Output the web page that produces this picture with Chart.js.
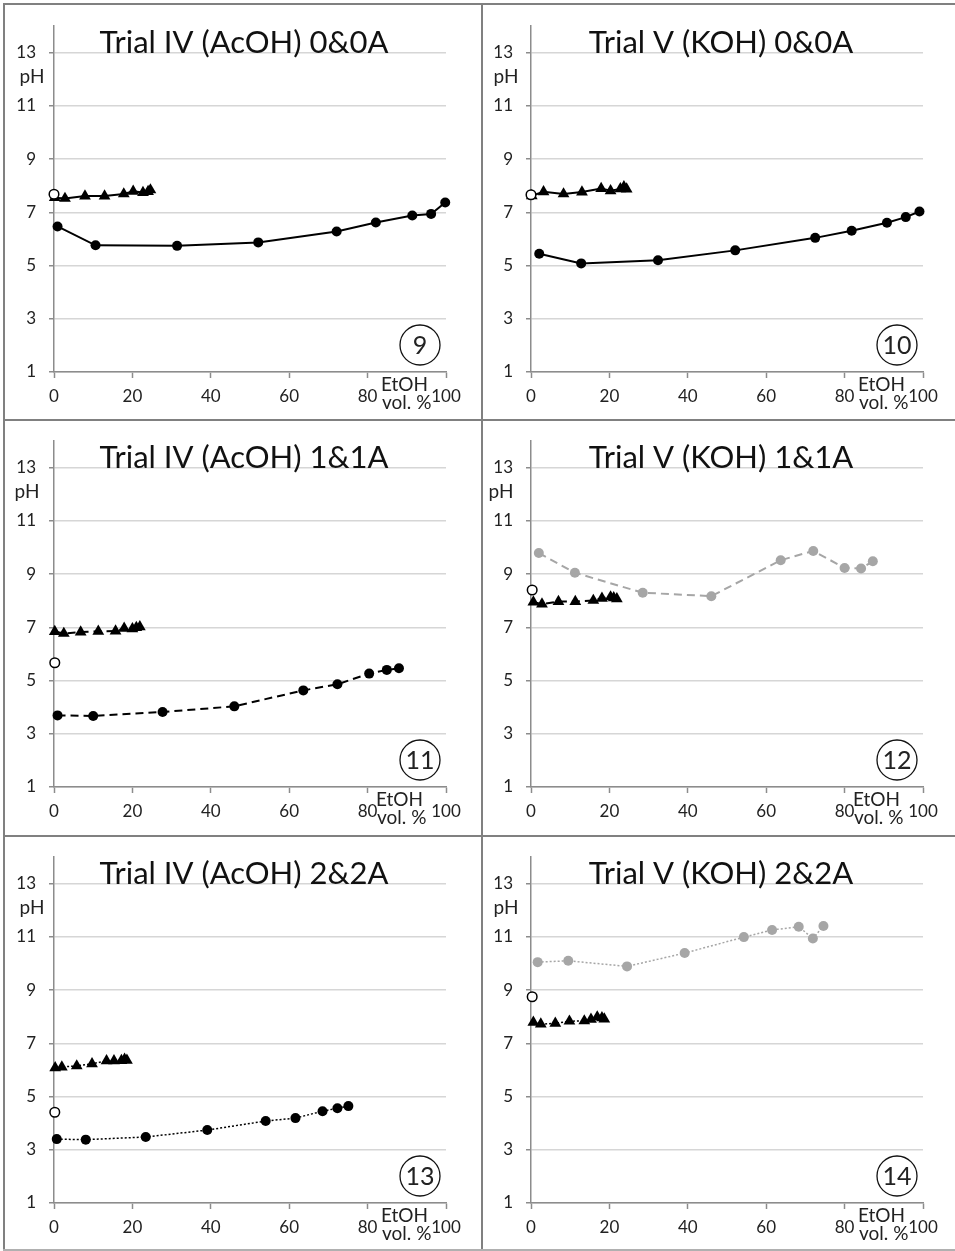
<!DOCTYPE html>
<html>
<head>
<meta charset="utf-8">
<script src="https://cdn.jsdelivr.net/npm/chart.js@4.4.0/dist/chart.umd.min.js"></script>
<style>
  body { margin: 0; background: #fff; }
  #page { position: relative; width: 955px; height: 1251px; overflow: hidden; background: #fff; }
  .panel { position: absolute; width: 478px; height: 416px; }
  .rule { position: absolute; background: #808080; }
</style>
</head>
<body>
<div id="page">
  <div class="panel" style="left:0;top:0"><canvas id="c0" width="478" height="416"></canvas></div>
  <div class="panel" style="left:477px;top:0"><canvas id="c1" width="478" height="416"></canvas></div>
  <div class="panel" style="left:0;top:415px"><canvas id="c2" width="478" height="416"></canvas></div>
  <div class="panel" style="left:477px;top:415px"><canvas id="c3" width="478" height="416"></canvas></div>
  <div class="panel" style="left:0;top:831px"><canvas id="c4" width="478" height="416"></canvas></div>
  <div class="panel" style="left:477px;top:831px"><canvas id="c5" width="478" height="416"></canvas></div>

  <!-- frame lines between panels -->
  <div class="rule" style="left:3px;top:3px;width:2px;height:1248px"></div>
  <div class="rule" style="left:481px;top:3px;width:2px;height:1248px"></div>
  <div class="rule" style="left:3px;top:3px;width:952px;height:2px"></div>
  <div class="rule" style="left:3px;top:419px;width:952px;height:2px"></div>
  <div class="rule" style="left:3px;top:835px;width:952px;height:2px"></div>
  <div class="rule" style="left:3px;top:1249px;width:952px;height:2px;background:#b0b0b0"></div>
</div>

<script>
// axes
const xTicks = [0, 20, 40, 60, 80, 100];
const yTicks = [1, 3, 5, 7, 9, 11, 13];

const titles = [
  "Trial IV (AcOH) 0&0A", "Trial V (KOH) 0&0A",
  "Trial IV (AcOH) 1&1A", "Trial V (KOH) 1&1A",
  "Trial IV (AcOH) 2&2A", "Trial V (KOH) 2&2A"
];
const panelNumbers = ["9", "10", "11", "12", "13", "14"];

// panel 9
const etohCirc9 = [0.9, 10.6, 31.4, 52.1, 72.1, 82.1, 91.4, 96.2, 99.8];
const phCirc9   = [6.47, 5.76, 5.74, 5.87, 6.28, 6.62, 6.88, 6.94, 7.37];
const etohTri9  = [0.2, 2.8, 7.9, 12.9, 17.8, 20.2, 22.7, 24.0, 24.6];
const phTri9    = [7.55, 7.52, 7.61, 7.61, 7.69, 7.79, 7.74, 7.78, 7.84];

// panel 10
const etohCirc10 = [2.1, 12.8, 32.4, 52.1, 72.5, 81.8, 90.8, 95.6, 99.1];
const phCirc10   = [5.44, 5.08, 5.20, 5.57, 6.04, 6.31, 6.61, 6.82, 7.03];
const etohTri10  = [0.2, 3.2, 8.3, 13.0, 17.9, 20.3, 22.8, 23.7, 24.4];
const phTri10    = [7.62, 7.77, 7.69, 7.76, 7.89, 7.81, 7.88, 7.96, 7.87];

// panel 11
const etohCirc11 = [0.9, 10.0, 27.7, 46.0, 63.6, 72.3, 80.4, 84.9, 88.0];
const phCirc11   = [3.69, 3.67, 3.82, 4.03, 4.63, 4.86, 5.26, 5.40, 5.46];
const etohTri11  = [0.2, 2.5, 6.8, 11.3, 15.7, 17.9, 20.0, 21.0, 21.9];
const phTri11    = [6.84, 6.77, 6.82, 6.85, 6.86, 6.96, 6.94, 6.99, 7.02];

// panel 12
const etohCirc12 = [2.0, 11.2, 28.5, 46.0, 63.7, 72.0, 80.0, 84.2, 87.2];
const phCirc12   = [9.79, 9.05, 8.30, 8.17, 9.52, 9.87, 9.23, 9.21, 9.48];
const etohTri12  = [0.6, 2.8, 7.0, 11.3, 15.9, 18.1, 20.3, 21.1, 21.9];
const phTri12    = [7.95, 7.87, 7.97, 7.97, 8.01, 8.09, 8.14, 8.11, 8.07];

// panel 13
const etohCirc13 = [0.7, 8.1, 23.4, 39.1, 54.0, 61.6, 68.5, 72.3, 75.1];
const phCirc13   = [3.40, 3.38, 3.48, 3.74, 4.08, 4.19, 4.45, 4.56, 4.64];
const etohTri13  = [0.3, 2.0, 5.8, 9.7, 13.4, 15.3, 17.2, 18.0, 18.6];
const phTri13    = [6.08, 6.11, 6.15, 6.23, 6.34, 6.34, 6.35, 6.40, 6.36];

// panel 14
const etohCirc14 = [1.7, 9.5, 24.5, 39.2, 54.3, 61.5, 68.3, 71.9, 74.6];
const phCirc14   = [10.05, 10.10, 9.89, 10.39, 10.99, 11.26, 11.38, 10.94, 11.41];
const etohTri14  = [0.6, 2.5, 6.2, 9.8, 13.6, 15.3, 16.9, 18.1, 18.7];
const phTri14    = [7.79, 7.72, 7.75, 7.83, 7.84, 7.90, 7.99, 7.96, 7.91];

// open circle at the start of each panel
const etohOpen = [0, 0, 0.2, 0.3, 0.2, 0.3];
const phOpen   = [7.68, 7.66, 5.67, 8.40, 4.41, 8.75];

const circX = [etohCirc9, etohCirc10, etohCirc11, etohCirc12, etohCirc13, etohCirc14];
const circY = [phCirc9, phCirc10, phCirc11, phCirc12, phCirc13, phCirc14];
const triX = [etohTri9, etohTri10, etohTri11, etohTri12, etohTri13, etohTri14];
const triY = [phTri9, phTri10, phTri11, phTri12, phTri13, phTri14];

// styles
const dashes = [[], [], [8, 5], [8, 5], [2, 2], [2, 2]];
const lineWidths = [2, 2, 2, 2, 1.5, 1.5];
const circColors = ["#000", "#000", "#000", "#a6a6a6", "#000", "#a6a6a6"];
const phDx = [-22, -25, -27, -30, -22, -25];
const etohDx = [327, 327, 322, 322, 327, 327];

const FONT = "Lato, 'Open Sans', sans-serif";
const AXIS = "#8c8c8c";
const INK = "#222";

const panelText = {
  id: "panelText",
  afterDraw(chart, args, o) {
    const { ctx, chartArea: a, scales } = chart;
    const y13 = scales.y.getPixelForValue(13);
    ctx.save();
    ctx.fillStyle = "#111";
    ctx.textBaseline = "alphabetic";

    ctx.textAlign = "center";
    ctx.font = "31px " + FONT;
    ctx.fillText(o.title, a.left + 190, y13);

    ctx.fillStyle = INK;
    ctx.font = "19px " + FONT;
    ctx.fillText("pH", a.left + o.phDx, a.top + 57);

    ctx.textAlign = "left";
    ctx.fillText("EtOH", a.left + o.etohDx, a.bottom + 19);
    ctx.fillText("vol. %", a.left + o.etohDx + 1, a.bottom + 37);

    // circled panel number
    const cx = a.left + 366, cy = a.top + 319;
    ctx.beginPath();
    ctx.arc(cx, cy, 20, 0, Math.PI * 2);
    ctx.lineWidth = 1.3;
    ctx.strokeStyle = "#111";
    ctx.stroke();
    ctx.textAlign = "center";
    ctx.textBaseline = "middle";
    ctx.font = "25px " + FONT;
    ctx.fillText(o.num, cx, cy + 1);
    ctx.restore();
  }
};

function pts(xs, ys) {
  return xs.map((x, k) => ({ x, y: ys[k] }));
}

function drawPanel(i) {
  new Chart(document.getElementById("c" + i), {
    type: "scatter",
    data: {
      datasets: [
        {
          data: pts([etohOpen[i]], [phOpen[i]]),
          showLine: false,
          pointStyle: "circle",
          pointRadius: 4.8,
          pointBackgroundColor: "#fff",
          pointBorderColor: "#000",
          pointBorderWidth: 1.5,
          clip: false
        },
        {
          data: pts(triX[i], triY[i]),
          showLine: true,
          borderColor: "#000",
          borderWidth: lineWidths[i],
          borderDash: dashes[i],
          pointStyle: "triangle",
          pointRadius: 6.8,
          pointBackgroundColor: "#000",
          pointBorderColor: "#000",
          pointBorderWidth: 0,
          clip: false
        },
        {
          data: pts(circX[i], circY[i]),
          showLine: true,
          borderColor: circColors[i],
          borderWidth: lineWidths[i],
          borderDash: dashes[i],
          pointStyle: "circle",
          pointRadius: 5,
          pointBackgroundColor: circColors[i],
          pointBorderColor: circColors[i],
          pointBorderWidth: 0,
          clip: false
        }
      ]
    },
    options: {
      responsive: false,
      animation: false,
      devicePixelRatio: 1,
      layout: { padding: { top: 26, right: 32, left: 0, bottom: 0 } },
      plugins: {
        legend: { display: false },
        tooltip: { enabled: false },
        panelText: { title: titles[i], num: panelNumbers[i], phDx: phDx[i], etohDx: etohDx[i] }
      },
      scales: {
        x: {
          type: "linear",
          min: 0,
          max: 100,
          afterBuildTicks: s => { s.ticks = xTicks.map(v => ({ value: v })); },
          afterFit: s => { s.height = 44; },
          grid: { drawOnChartArea: false, tickLength: 6, tickColor: AXIS, tickWidth: 1.5 },
          border: { color: AXIS, width: 1.5 },
          ticks: { font: { family: FONT, size: 17 }, color: INK, padding: 8, maxRotation: 0, autoSkip: false }
        },
        y: {
          type: "linear",
          min: 1,
          max: 14,
          afterBuildTicks: s => { s.ticks = yTicks.map(v => ({ value: v })); },
          afterFit: s => { s.width = 54; },
          grid: { color: "#d6d6d6", lineWidth: 1.5, tickLength: 5, tickColor: AXIS },
          border: { color: AXIS, width: 1.5 },
          ticks: { font: { family: FONT, size: 17 }, color: INK, padding: 13, autoSkip: false }
        }
      }
    },
    plugins: [panelText]
  });
}

for (let i = 0; i < 6; i++) drawPanel(i);
</script>
</body>
</html>
